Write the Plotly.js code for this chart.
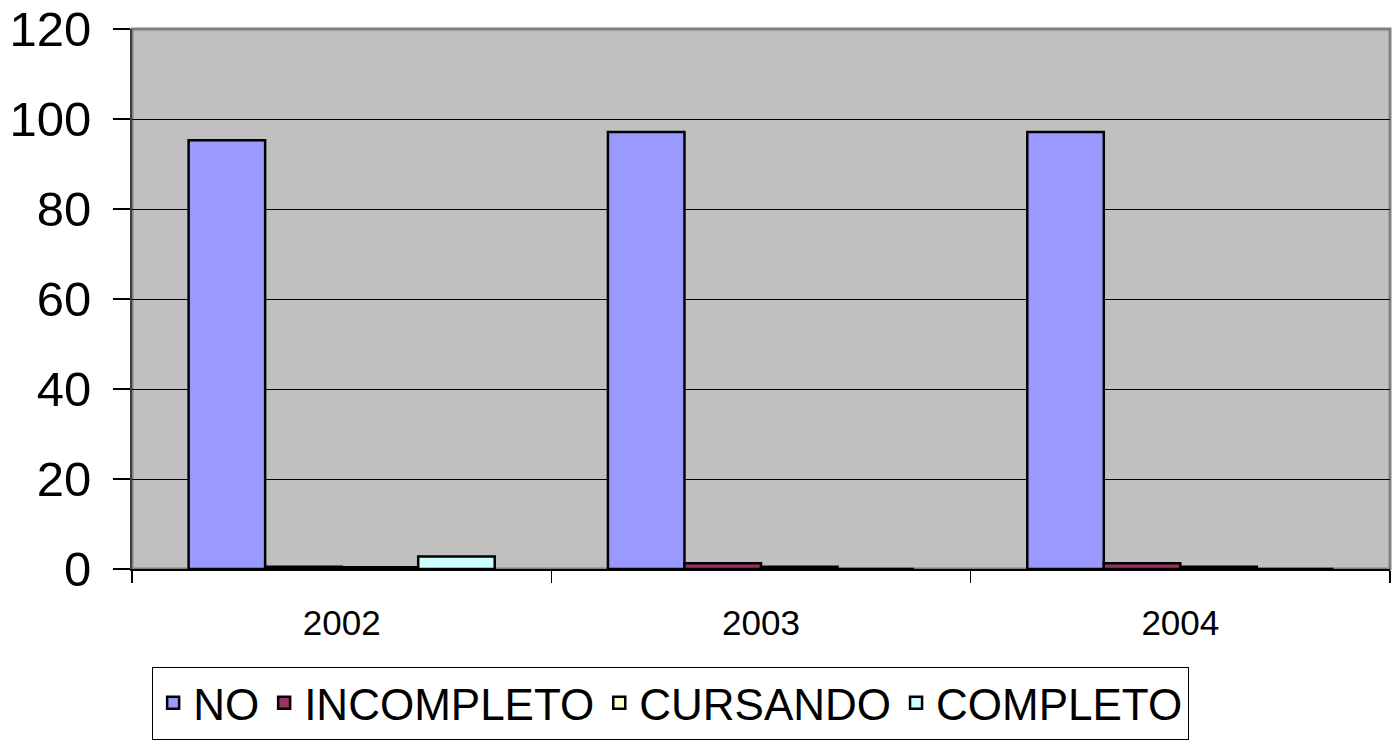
<!DOCTYPE html>
<html>
<head>
<meta charset="utf-8">
<script src="https://cdn.plot.ly/plotly-3.0.1.min.js"></script>
<style>html,body{margin:0;padding:0;background:#fff;}#chart{width:1399px;height:749px;}</style>
</head>
<body>
<div id="chart"></div>
<script>
var years = ["2002", "2003", "2004"];
var seriesNames = ["NO", "INCOMPLETO", "CURSANDO", "COMPLETO"];
var valuesNO = [95.3, 97.1, 97.1];
var valuesINCOMPLETO = [0.5, 1.3, 1.3];
var valuesCURSANDO = [0.4, 0.5, 0.5];
var valuesCOMPLETO = [2.8, 0, 0];
var seriesColors = ["#9999FF", "#993366", "#FFFFCC", "#CCFFFF"];

var allValues = [valuesNO, valuesINCOMPLETO, valuesCURSANDO, valuesCOMPLETO];
var traces = allValues.map(function (vals, i) {
  return {
    type: "bar",
    name: seriesNames[i],
    x: years,
    y: vals,
    marker: { color: seriesColors[i], line: { color: "#000000", width: 2.5 } },
    hoverinfo: "x+y+name"
  };
});

var layout = {
  width: 1399,
  height: 749,
  margin: { l: 132, r: 9, t: 29, b: 180 },
  paper_bgcolor: "#FFFFFF",
  plot_bgcolor: "#C0C0C0",
  barmode: "group",
  bargap: 0.27,
  bargroupgap: 0,
  font: { family: "Arial, 'Liberation Sans', sans-serif", color: "#000000" },
  xaxis: {
    type: "category",
    tickson: "boundaries",
    ticks: "outside",
    ticklen: 12,
    tickwidth: 1.5,
    tickcolor: "#000000",
    showline: true,
    linecolor: "#000000",
    linewidth: 2,
    showgrid: false,
    ticklabelstandoff: 22,
    tickfont: { size: 35, family: "Arial, 'Liberation Sans', sans-serif" },
    fixedrange: true
  },
  yaxis: {
    range: [0, 120],
    tickvals: [0, 20, 40, 60, 80, 100, 120],
    ticks: "outside",
    ticklen: 17,
    tickwidth: 1.5,
    tickcolor: "#000000",
    showline: true,
    linecolor: "#404040",
    linewidth: 2,
    showgrid: true,
    gridcolor: "#000000",
    gridwidth: 1,
    zeroline: false,
    ticklabelstandoff: 12,
    tickfont: { size: 49, family: "Arial, 'Liberation Sans', sans-serif" },
    fixedrange: true
  },
  shapes: [{
    type: "rect", xref: "paper", yref: "paper",
    x0: 0, x1: 1, y0: 0, y1: 1,
    line: { color: "#808080", width: 3 },
    layer: "below"
  }],
  showlegend: true,
  legend: {
    orientation: "h",
    x: 0.016, xanchor: "left",
    y: -0.181, yanchor: "top",
    bgcolor: "#FFFFFF",
    bordercolor: "#000000",
    borderwidth: 1,
    font: { size: 44, family: "Arial, 'Liberation Sans', sans-serif" },
    itemwidth: 30,
    traceorder: "normal"
  }
};

Plotly.newPlot("chart", traces, layout, { displayModeBar: false, staticPlot: true });
</script>
</body>
</html>
